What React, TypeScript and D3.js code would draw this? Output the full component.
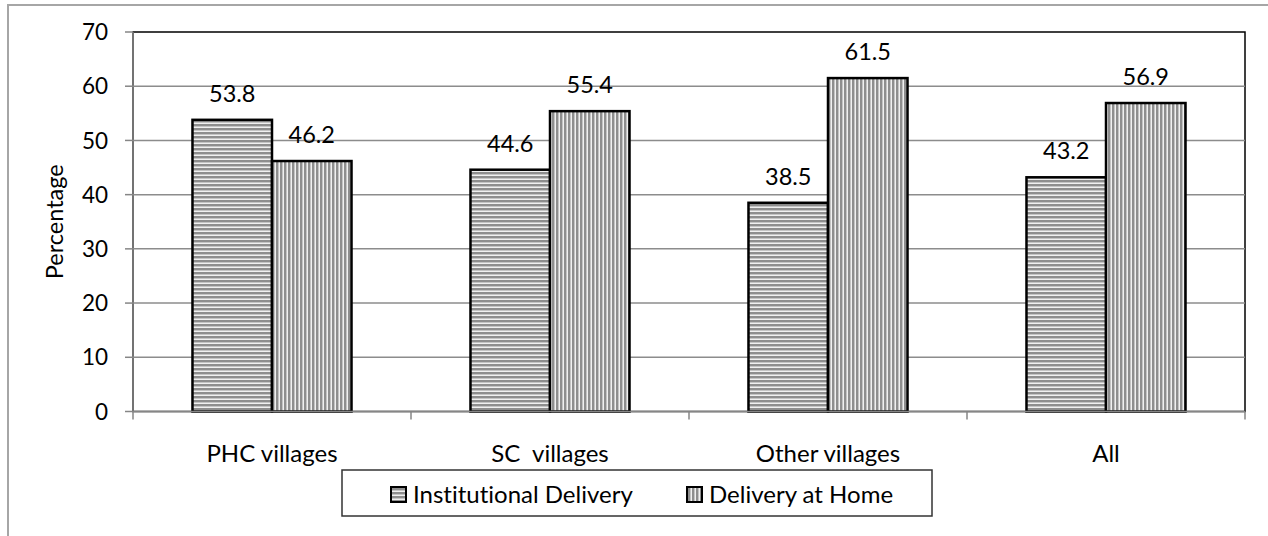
import React from "react";
import * as d3 from "d3";

const categories = ["PHC villages", "SC  villages", "Other villages", "All"];
const seriesNames = ["Institutional Delivery", "Delivery at Home"];
const institutional = [53.8, 44.6, 38.5, 43.2];
const home = [46.2, 55.4, 61.5, 56.9];
const yTicks = [0, 10, 20, 30, 40, 50, 60, 70];

const W = 1268;
const H = 536;
const FONT = "Lato, 'Open Sans', sans-serif";

export default function App() {
  const left = 133;
  const right = 1245;
  const top = 32;
  const bottom = 411.5;

  const y = d3.scaleLinear().domain([0, 70]).range([bottom, top]);
  const x0 = d3.scaleBand<string>().domain(categories).range([left, right]).padding(0);
  const x1 = d3
    .scaleBand<string>()
    .domain(seriesNames)
    .range([0, x0.bandwidth()])
    .paddingInner(0)
    .paddingOuter(0.748);

  const values = [institutional, home];
  const patterns = ["patH", "patV"];

  return (
    <svg
      width={W}
      height={H}
      style={{ position: "absolute", left: 0, top: 0, background: "#fff", fontVariantLigatures: "none" }}
      fontFamily={FONT}
    >
      <defs>
        <pattern id="patH" width={4} height={4} patternUnits="userSpaceOnUse">
          <rect width={4} height={4} fill="#f0f0f0" />
          <rect y={0} width={4} height={2} fill="#8e8e8e" />
          <rect y={2} width={4} height={1} fill="#c4c4c4" />
        </pattern>
        <pattern id="patV" width={4} height={4} patternUnits="userSpaceOnUse">
          <rect width={4} height={4} fill="#f0f0f0" />
          <rect x={0} width={2} height={4} fill="#8e8e8e" />
          <rect x={2} width={1} height={4} fill="#c4c4c4" />
        </pattern>
      </defs>
      <rect x={0} y={0} width={W} height={H} fill="#fff" />
      {/* outer chart border */}
      <rect x={8} y={5} width={1400} height={700} fill="none" stroke="#a6a6a6" strokeWidth={2} />

      {/* plot area border */}
      <rect x={left} y={top} width={right - left} height={bottom - top} fill="none" stroke="#000" strokeWidth={1.5} />

      {/* gridlines */}
      {yTicks.slice(1, -1).map((t) => (
        <line key={"g" + t} x1={left} x2={right} y1={y(t)} y2={y(t)} stroke="#8c8c8c" strokeWidth={1.5} />
      ))}

      {/* y axis */}
      <line x1={left} x2={left} y1={top} y2={bottom} stroke="#868686" strokeWidth={1.5} />
      {yTicks.map((t) => (
        <g key={"t" + t}>
          <line x1={left - 8} x2={left} y1={y(t)} y2={y(t)} stroke="#868686" strokeWidth={1.5} />
          <text x={108} y={y(t)} dy="0.36em" textAnchor="end" fontSize={22.5} fill="#000">
            {t}
          </text>
        </g>
      ))}

      {/* bars */}
      {categories.map((c, ci) =>
        seriesNames.map((s, si) => {
          const v = values[si][ci];
          const bx = (x0(c) as number) + (x1(s) as number);
          const bw = x1.bandwidth();
          return (
            <g key={c + s}>
              <rect
                x={bx}
                y={y(v)}
                width={bw}
                height={bottom - y(v)}
                fill={`url(#${patterns[si]})`}
                stroke="#000"
                strokeWidth={2.5}
              />
              <text x={bx + bw / 2} y={y(v) - 18} textAnchor="middle" fontSize={23.5} fill="#000">
                {v.toFixed(1)}
              </text>
            </g>
          );
        })
      )}

      {/* x axis */}
      <line x1={left} x2={right} y1={bottom} y2={bottom} stroke="#868686" strokeWidth={1.5} />
      {d3.range(categories.length + 1).map((i) => {
        const xx = left + i * x0.step();
        return <line key={"xt" + i} x1={xx} x2={xx} y1={bottom} y2={bottom + 8} stroke="#868686" strokeWidth={1.5} />;
      })}
      {categories.map((c) => (
        <text
          key={"c" + c}
          x={(x0(c) as number) + x0.bandwidth() / 2}
          y={462}
          textAnchor="middle"
          fontSize={24}
          fill="#000"
          style={{ whiteSpace: "pre" }}
        >
          {c}
        </text>
      ))}

      {/* y axis title */}
      <text
        transform={`translate(63, ${(top + bottom) / 2}) rotate(-90)`}
        textAnchor="middle"
        fontSize={23.5}
        fill="#000"
      >
        Percentage
      </text>

      {/* legend */}
      <rect x={342} y={470} width={590} height={46} fill="#fff" stroke="#333" strokeWidth={1.5} />
      {seriesNames.map((s, i) => {
        const sx = i === 0 ? 391 : 687;
        return (
          <g key={"l" + s}>
            <rect x={sx} y={487} width={15} height={15} fill={`url(#${patterns[i]})`} stroke="#000" strokeWidth={2} />
            <text x={sx + 22} y={503} fontSize={24} fill="#000">
              {s}
            </text>
          </g>
        );
      })}
    </svg>
  );
}
